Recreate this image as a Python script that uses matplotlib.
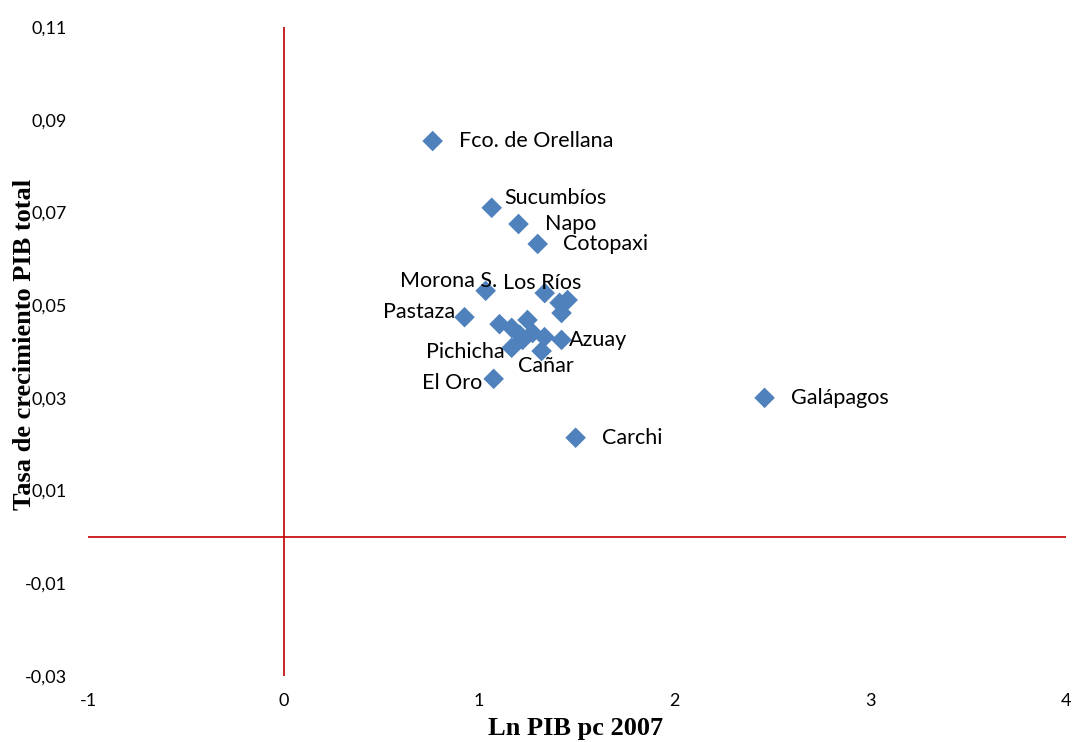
import matplotlib.pyplot as plt
from matplotlib.ticker import FuncFormatter

plt.rcParams['axes.unicode_minus'] = False

# Ln PIB pc 2007 vs tasa de crecimiento PIB total (provincias)
provincias = ["Fco. de Orellana", "Sucumbíos", "Napo", "Cotopaxi", "Morona S.",
              "Los Ríos", "Pastaza", "Galápagos", "Carchi", "El Oro",
              "Pichicha", "Cañar", "Azuay",
              "", "", "", "", "", "", "", "", "", ""]
ln_pib = [0.762, 1.064, 1.201, 1.299, 1.033,
          1.335, 0.925, 2.459, 1.493, 1.074,
          1.166, 1.319, 1.421,
          1.452, 1.411, 1.421, 1.104, 1.166, 1.247, 1.207, 1.334, 1.273, 1.222]
tasa = [0.0854, 0.0710, 0.0675, 0.0632, 0.0531,
        0.0526, 0.0474, 0.0300, 0.0214, 0.0341,
        0.0408, 0.0401, 0.0425,
        0.0511, 0.0505, 0.0483, 0.0459, 0.0451, 0.0468, 0.0436, 0.0431, 0.0440, 0.0425]

# desplazamiento de etiquetas en puntos (dx, dy, alineación)
offsets = {
    "Fco. de Orellana": (19, 0, "left"),
    "Sucumbíos": (9, 7, "left"),
    "Napo": (19, 0, "left"),
    "Cotopaxi": (18, 0, "left"),
    "Morona S.": (8, 7, "right"),
    "Los Ríos": (-30, 7, "left"),
    "Pastaza": (-7, 4, "right"),
    "Galápagos": (19, 0, "left"),
    "Carchi": (19, 0, "left"),
    "El Oro": (-8, -3, "right"),
    "Pichicha": (-5, -3, "right"),
    "Cañar": (-17, -11, "left"),
    "Azuay": (5, 0, "left"),
}

fig = plt.figure(figsize=(10.73, 7.42), dpi=100)
ax = fig.add_axes([88 / 1073, 1 - 676 / 742, (1066 - 88) / 1073, (676 - 27) / 742])

ax.set_xlim(-1, 4)
ax.set_ylim(-0.03, 0.11)

ax.plot([0, 0], [-0.03, 0.11], color="#C00000", lw=1.2, zorder=1)
ax.plot([-1, 4], [0, 0], color="#C00000", lw=1.2, zorder=1)

ax.scatter(ln_pib, tasa, marker="D", s=110, color="#4F81BD", edgecolors="none", zorder=3)

for nombre, x, y in zip(provincias, ln_pib, tasa):
    if not nombre:
        continue
    dx, dy, ha = offsets[nombre]
    ax.annotate(nombre, (x, y), xytext=(dx, dy), textcoords="offset points",
                ha=ha, va="center", fontsize=15.5, family="Lato", zorder=4)

ax.set_xticks([-1, 0, 1, 2, 3, 4])
ax.set_yticks([-0.03, -0.01, 0.01, 0.03, 0.05, 0.07, 0.09, 0.11])
ax.yaxis.set_major_formatter(FuncFormatter(lambda v, p: f"{v:.2f}".replace(".", ",")))
ax.tick_params(length=0, labelsize=13)
ax.tick_params(axis="y", pad=15)
ax.tick_params(axis="x", pad=12)
for lab in ax.get_xticklabels() + ax.get_yticklabels():
    lab.set_family("Lato")

for s in ax.spines.values():
    s.set_visible(False)

ax.set_xlabel("Ln PIB pc 2007", family="Liberation Serif", fontweight="bold", fontsize=19)
ax.set_ylabel("Tasa de crecimiento PIB total", family="Liberation Serif", fontweight="bold", fontsize=19)
ax.xaxis.set_label_coords((576 - 88) / (1066 - 88), -(717 - 676) / (676 - 27))
ax.yaxis.set_label_coords(-(88 - 36) / (1066 - 88), (676 - 344) / (676 - 27))

fig.savefig("out.png", dpi=100)
